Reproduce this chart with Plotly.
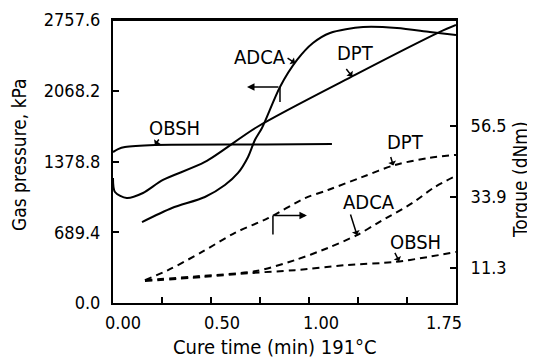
import numpy as np
import plotly.graph_objects as go

# ---------------- data ----------------
# Gas pressure (kPa), left axis, solid lines
OBSH_P_T = [0.0, 0.026, 0.061, 0.214, 0.776, 1.117]
OBSH_P = [1471, 1500, 1520, 1540, 1545, 1549]

DPT_P_T = [0.0, 0.01, 0.07, 0.153, 0.255, 0.469, 0.735, 1.235, 1.668, 1.75]
DPT_P = [1218, 1082, 1023, 1072, 1199, 1374, 1715, 2222, 2641, 2709]

ADCA_P_T = [0.148, 0.301, 0.469, 0.571, 0.638, 0.689, 0.724, 0.760, 0.852,
            0.939, 1.020, 1.107, 1.276, 1.449, 1.617, 1.75]
ADCA_P = [789, 926, 1033, 1150, 1267, 1423, 1588, 1705, 2105,
          2368, 2533, 2631, 2689, 2680, 2641, 2611]

# Torque (dNm), right axis, dashed lines
DPT_T_T = [0.163, 0.281, 0.454, 0.622, 0.791, 0.980, 1.097, 1.270, 1.439, 1.607, 1.75]
DPT_T = [7.3, 10.5, 16.3, 22.4, 27.1, 33.5, 36.1, 40.2, 44.1, 46.3, 47.3]

ADCA_T_T = [0.163, 0.444, 0.730, 0.929, 1.097, 1.245, 1.352, 1.526, 1.643, 1.75]
ADCA_T = [7.3, 8.6, 10.2, 13.7, 17.6, 21.7, 25.6, 31.9, 37.1, 40.6]

OBSH_T_T = [0.163, 0.454, 0.709, 0.929, 1.184, 1.439, 1.607, 1.75]
OBSH_T = [7.0, 8.3, 9.6, 10.5, 12.1, 13.1, 14.7, 16.3]

# axes
X_TICK_VALUES = [0.0, 0.5, 1.0, 1.75]
X_TICK_LABELS = ["0.00", "0.50", "1.00", "1.75"]
X_MINOR_TICKS = [0.25, 0.5, 0.75, 1.0, 1.25, 1.5]
Y_TICK_VALUES = [0.0, 689.4, 1378.8, 2068.2, 2757.6]
Y_TICK_LABELS = ["0.0", "689.4", "1378.8", "2068.2", "2757.6"]
Y2_TICK_VALUES = [11.3, 33.9, 56.5]
Y2_TICK_LABELS = ["11.3", "33.9", "56.5"]

# ---------------- layout constants ----------------
W, H = 535, 360
OFF = 8  # default page body margin
ML, MR, MT, MB = 113, 79, 20, 57   # plot area in page pixels
PW, PH = W - ML - MR, H - MT - MB
XMAX, YMAX, Y2MAX = 1.75, 2757.6, 90.4
px_x = XMAX / PW
px_y = YMAX / PH
px_y2 = Y2MAX / PH

FONT = "DejaVu Sans Condensed, DejaVu Sans, sans-serif"
BLACK = "black"

fig = go.Figure()

def solid(t, v):
    fig.add_trace(go.Scatter(x=t, y=v, mode="lines", yaxis="y",
                             line=dict(color=BLACK, width=2, shape="spline", smoothing=0.8),
                             hoverinfo="skip", showlegend=False))

def dashed(t, v):
    fig.add_trace(go.Scatter(x=t, y=v, mode="lines", yaxis="y2",
                             line=dict(color=BLACK, width=2, dash="7px,5px", shape="spline", smoothing=0.8),
                             hoverinfo="skip", showlegend=False))

solid(OBSH_P_T, OBSH_P)
solid(DPT_P_T, DPT_P)
solid(ADCA_P_T, ADCA_P)
dashed(DPT_T_T, DPT_T)
dashed(ADCA_T_T, ADCA_T)
dashed(OBSH_T_T, OBSH_T)

# x tick labels shifted slightly (as typeset in the original)
label_shift_px = [10, 11, 12, -12]
x_label_pos = [v + s * px_x for v, s in zip(X_TICK_VALUES, label_shift_px)]

annotations = []

# curve labels: (text, t, value, axis)
labels = [
    ("OBSH", 0.316, 1705, "y"),
    ("ADCA", 0.750, 2397, "y"),
    ("DPT", 1.235, 2436, "y"),
    ("DPT", 1.490, 51.4, "y2"),
    ("ADCA", 1.306, 32.3, "y2"),
    ("OBSH", 1.541, 19.5, "y2"),
]
for txt, t, v, ax in labels:
    annotations.append(dict(x=t, y=v, xref="x", yref=ax, text=txt, showarrow=False,
                            font=dict(family=FONT, size=20, color=BLACK),
                            xanchor="center", yanchor="middle"))

# pointer hooks from labels to curves: (series t, series v, t at tip, axis, tail dx, tail dy)
pointers = [
    (OBSH_P_T, OBSH_P, 0.214, "y", 5, -7),
    (ADCA_P_T, ADCA_P, 0.929, "y", -9, -6),
    (DPT_P_T, DPT_P, 1.22, "y", -7, -9),
    (DPT_T_T, DPT_T, 1.43, "y2", -3, -10),
    (ADCA_T_T, ADCA_T, 1.245, "y2", -7, -22),
    (OBSH_T_T, OBSH_T, 1.46, "y2", -5, -10),
]
for st, sv, t, ax, dx, dy in pointers:
    v = float(np.interp(t, st, sv))
    annotations.append(dict(x=t, y=v, xref="x", yref=ax, text="", showarrow=True,
                            ax=dx, ay=dy, arrowhead=1, arrowsize=0.9, arrowwidth=1.5,
                            arrowcolor=BLACK))

# direction arrows
t_left = 0.852
v_left = float(np.interp(t_left, ADCA_P_T, ADCA_P))
annotations.append(dict(x=t_left - 33 * px_x, y=v_left, xref="x", yref="y",
                        ax=t_left, ay=v_left, axref="x", ayref="y", text="", showarrow=True,
                        arrowhead=2, arrowsize=1, arrowwidth=1.5, arrowcolor=BLACK))
t_right = 0.816
v_right = float(np.interp(t_right, DPT_T_T, DPT_T))
annotations.append(dict(x=t_right + 34 * px_x, y=v_right, xref="x", yref="y2",
                        ax=t_right, ay=v_right, axref="x", ayref="y2", text="", showarrow=True,
                        arrowhead=2, arrowsize=1, arrowwidth=1.5, arrowcolor=BLACK))

shapes = [
    dict(type="line", xref="x", yref="y", x0=t_left, x1=t_left, y0=v_left, y1=v_left - 15 * px_y,
         line=dict(color=BLACK, width=1.5)),
    dict(type="line", xref="x", yref="y2", x0=t_right, x1=t_right, y0=v_right, y1=v_right - 19 * px_y2,
         line=dict(color=BLACK, width=1.5)),
    # top frame line
    dict(type="line", xref="paper", yref="paper", x0=0, x1=1, y0=1, y1=1,
         line=dict(color=BLACK, width=2)),
]

# axis titles, positioned in page pixels then converted to paper coords
titles = [
    ("Gas pressure, kPa", 19, 155, -90, 19),
    ("Torque (dNm)", 520, 180, -90, 19),
    ("Cure time (min) 191°C", 275, 347, 0, 20),
]
for txt, px, py, ang, fs in titles:
    annotations.append(dict(x=(px - ML) / PW, y=(H - MB - py) / PH, xref="paper", yref="paper",
                            text=txt, showarrow=False, textangle=ang,
                            xanchor="center", yanchor="middle",
                            font=dict(family=FONT, size=fs, color=BLACK)))

fig.update_layout(
    width=W - OFF, height=H - OFF,
    margin=dict(l=ML - OFF, r=MR, t=MT - OFF, b=MB, autoexpand=False),
    paper_bgcolor="white", plot_bgcolor="white",
    showlegend=False, hovermode=False,
    font=dict(family=FONT, size=18, color=BLACK),
    xaxis=dict(range=[0, XMAX], showgrid=False, zeroline=False,
               showline=True, linecolor=BLACK, linewidth=2, mirror=True,
               tickmode="array", tickvals=x_label_pos, ticktext=X_TICK_LABELS,
               ticks="", ticklen=0, ticklabelstandoff=2,
               minor=dict(tickmode="array", tickvals=X_MINOR_TICKS, ticks="inside",
                          ticklen=6, tickwidth=1.5, tickcolor=BLACK, showgrid=False),
               tickfont=dict(family=FONT, size=18, color=BLACK)),
    yaxis=dict(range=[0, YMAX], showgrid=False, zeroline=False,
               showline=True, linecolor=BLACK, linewidth=2,
               tickmode="array", tickvals=Y_TICK_VALUES, ticktext=Y_TICK_LABELS,
               ticks="inside", ticklen=6, tickwidth=1.5, tickcolor=BLACK,
               ticklabelstandoff=7,
               tickfont=dict(family=FONT, size=18, color=BLACK)),
    yaxis2=dict(range=[0, Y2MAX], overlaying="y", side="right", showgrid=False, zeroline=False,
                showline=True, linecolor=BLACK, linewidth=2,
                tickmode="array", tickvals=Y2_TICK_VALUES, ticktext=Y2_TICK_LABELS,
                ticks="inside", ticklen=6, tickwidth=1.5, tickcolor=BLACK,
                ticklabelstandoff=9,
                tickfont=dict(family=FONT, size=18, color=BLACK)),
    annotations=annotations,
    shapes=shapes,
)

fig.write_html("out.html")
